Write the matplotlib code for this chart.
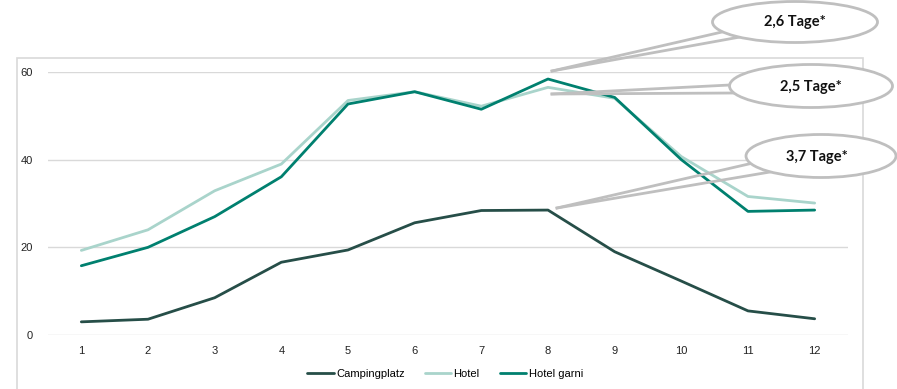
import matplotlib
matplotlib.use("Agg")
import matplotlib.pyplot as plt
from matplotlib.patches import Ellipse, Rectangle
from matplotlib.lines import Line2D

months = list(range(1, 13))
camping = [3.0, 3.6, 8.5, 16.6, 19.4, 25.6, 28.4, 28.5, 19.0, 12.3, 5.5, 3.7]
hotel = [19.3, 24.0, 32.9, 39.0, 53.5, 55.5, 52.2, 56.5, 54.0, 40.7, 31.6, 30.1]
hotel_garni = [15.8, 20.0, 27.0, 36.1, 52.7, 55.5, 51.5, 58.4, 54.2, 40.0, 28.2, 28.5]
y_ticks = [0, 20, 40, 60]
callout_labels = ["2,6 Tage*", "2,5 Tage*", "3,7 Tage*"]

W, H = 897, 389
fig = plt.figure(figsize=(W / 100, H / 100), dpi=100)


def fx(x):
    return x / W


def fy(y):
    return 1 - y / H


# outer chart frame
fig.patches.append(Rectangle((fx(17), fy(395)), fx(863) - fx(17), fy(58) - fy(395),
                             transform=fig.transFigure, fill=False,
                             edgecolor="#d9d9d9", linewidth=1.2, zorder=0))

ax = fig.add_axes([fx(48), fy(335), fx(848) - fx(48), fy(72) - fy(335)])
ax.plot(months, camping, color="#264e48", lw=2.0, label="Campingplatz", solid_capstyle="round")
ax.plot(months, hotel, color="#a9d4cb", lw=2.0, label="Hotel", solid_capstyle="round")
ax.plot(months, hotel_garni, color="#00806f", lw=2.0, label="Hotel garni", solid_capstyle="round")

ax.set_xlim(0.5, 12.5)
ax.set_ylim(0, 60)
ax.set_xticks(months)
ax.set_yticks(y_ticks)
ax.grid(axis="y", color="#d9d9d9", lw=1)
ax.set_axisbelow(True)
for s in ax.spines.values():
    s.set_visible(False)
ax.tick_params(length=0, labelsize=8, colors="#222222", pad=8)
ax.tick_params(axis="y", pad=11)
for lab in ax.get_xticklabels() + ax.get_yticklabels():
    lab.set_family("Liberation Sans")

handles, labels = ax.get_legend_handles_labels()
fig.legend(handles, labels, loc="center", bbox_to_anchor=(fx(445), fy(374)), ncol=3,
           frameon=False, prop={"family": "Liberation Sans", "size": 8},
           handlelength=2.4, handletextpad=0.2, columnspacing=1.8)

# callouts: (ellipse centre, w, h, wedge base points, tip, text centre)
callouts = [
    ((795, 22), 165, 41, [(722, 32), (740, 37)], (552, 71), (795, 22)),
    ((811, 86), 163, 43, [(730, 85), (735, 93)], (552, 94), (811, 87)),
    ((821, 156), 150, 43, [(753, 163), (770, 172)], (557, 208), (817, 157)),
]
grey = "#bfbfbf"
for (c, w, h, base, tip, tc), text in zip(callouts, callout_labels):
    for bx, by in base:
        fig.add_artist(Line2D([fx(bx), fx(tip[0])], [fy(by), fy(tip[1])],
                              transform=fig.transFigure, color=grey, lw=2, zorder=5))
    fig.patches.append(Ellipse((fx(c[0]), fy(c[1])), fx(w), h / H,
                               transform=fig.transFigure, facecolor="white",
                               edgecolor=grey, linewidth=2, zorder=6))
    fig.text(fx(tc[0]), fy(tc[1]), text, ha="center", va="center", fontsize=10.5,
             fontweight="bold", family="Lato", color="#111111", zorder=7)

fig.savefig("out.png", dpi=100)
